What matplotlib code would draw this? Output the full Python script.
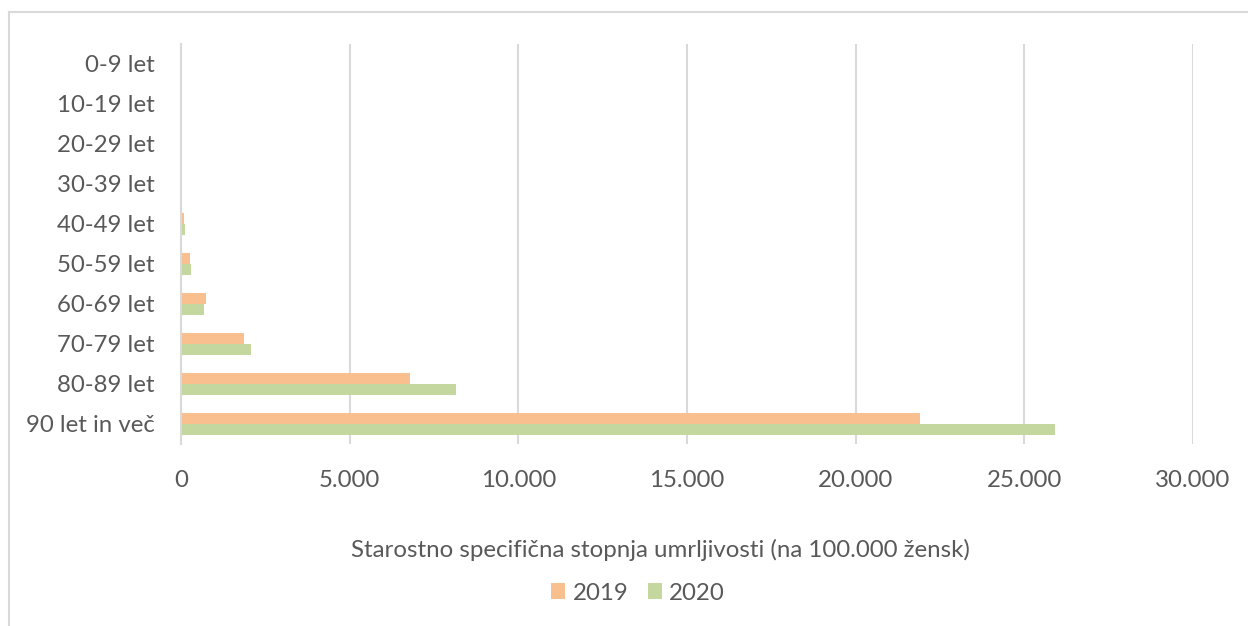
import matplotlib.pyplot as plt
import numpy as np
from matplotlib.lines import Line2D

age_groups = ['0-9 let', '10-19 let', '20-29 let', '30-39 let', '40-49 let',
              '50-59 let', '60-69 let', '70-79 let', '80-89 let', '90 let in več']
rate_2019 = [2, 3, 6, 40, 90, 270, 730, 1860, 6800, 21910]
rate_2020 = [1, 2, 5, 20, 130, 290, 680, 2075, 8140, 25900]
x_ticks = [0, 5000, 10000, 15000, 20000, 25000, 30000]

txt = '#595959'
grid = '#d9d9d9'
c2019 = '#F9BF8F'
c2020 = '#C4D79F'
fs = 17.3

plt.rcParams['font.family'] = ['Lato', 'DejaVu Sans']

W, H = 1248, 626
fig = plt.figure(figsize=(W / 100, H / 100), dpi=100)
ax = fig.add_axes([181 / W, 182 / H, (1193 - 181) / W, 400 / H])

y = np.arange(len(age_groups))
h = 0.265
ax.barh(y - h / 2, rate_2019, height=h, color=c2019, label='2019', zorder=3)
ax.barh(y + h / 2, rate_2020, height=h, color=c2020, label='2020', zorder=3)

ax.set_ylim(len(age_groups) - 0.5, -0.5)
ax.set_xlim(0, 30000)
ax.set_xticks(x_ticks)
ax.set_xticklabels(['0'] + [f'{v:,}'.replace(',', '.') for v in x_ticks[1:]])
ax.set_yticks(y)
ax.set_yticklabels(age_groups)
ax.tick_params(length=0, labelsize=fs, colors=txt)
ax.tick_params(axis='x', pad=19)
ax.tick_params(axis='y', pad=19)

ax.grid(axis='x', color=grid, linewidth=1.5, zorder=0)
for s in ['top', 'right', 'bottom']:
    ax.spines[s].set_visible(False)
ax.spines['left'].set_color(grid)
ax.spines['left'].set_linewidth(1.5)
ax.spines['left'].set_zorder(4)

ax.text(660 / W, 1 - 550 / H, 'Starostno specifična stopnja umrljivosti (na 100.000 žensk)',
        transform=fig.transFigure, ha='center', va='center', fontsize=fs, color=txt)

leg = fig.legend(loc='center', bbox_to_anchor=(638 / W, 1 - 593 / H), ncol=2,
                 frameon=False, fontsize=fs, handlelength=0.6, handleheight=0.6,
                 handletextpad=0.3, columnspacing=0.8)
for t in leg.get_texts():
    t.set_color(txt)

# chart frame
fig.add_artist(Line2D([9 / W, 1], [1 - 12 / H, 1 - 12 / H], color=grid, lw=1.5))
fig.add_artist(Line2D([9 / W, 9 / W], [0, 1 - 12 / H], color=grid, lw=1.5))

fig.savefig('out.png', dpi=100)
